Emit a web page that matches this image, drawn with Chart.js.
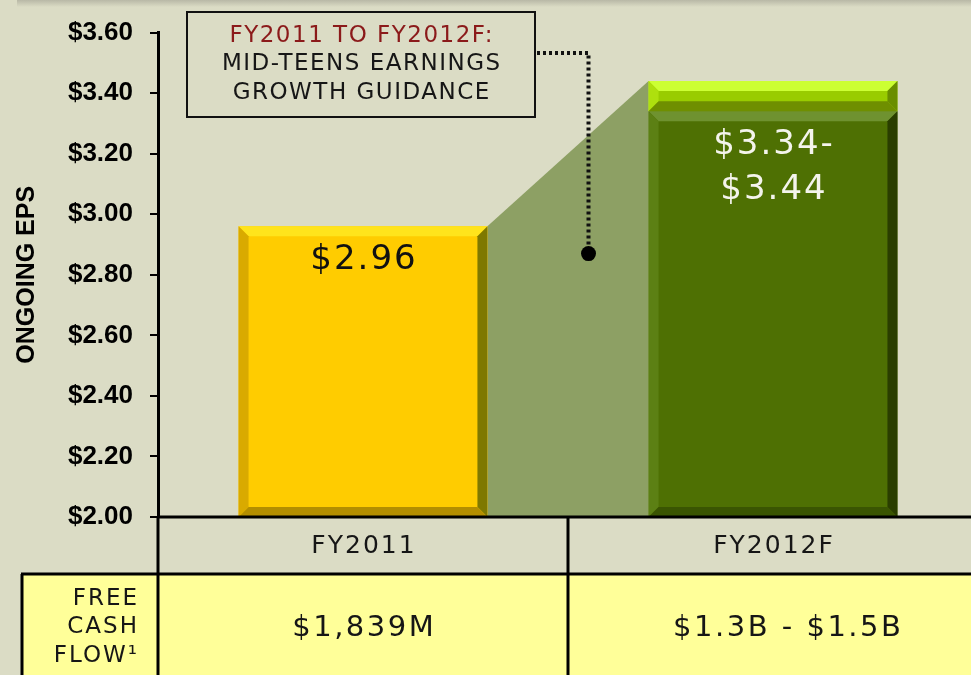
<!DOCTYPE html>
<html>
<head>
<meta charset="utf-8">
<title>Ongoing EPS</title>
<script src="https://cdn.jsdelivr.net/npm/chart.js@4/dist/chart.umd.min.js"></script>
<style>
  html, body { margin: 0; padding: 0; background: #DBDCC5; overflow: hidden; }
  #wrap { width: 980px; height: 675px; }
</style>
</head>
<body>
<div id="wrap"><canvas id="eps" width="980" height="675"></canvas></div>
<script>
// chart data
var categories = ['FY2011', 'FY2012F'];
var epsLow = [2.96, 3.34];
var epsHigh = [null, 3.44];
var barLabels = [['$2.96'], ['$3.34-', '$3.44']];
var yMin = 2.0, yMax = 3.6, yStep = 0.2;
var cashFlowLabel = ['FREE', 'CASH', 'FLOW\u00B9'];
var cashFlow = ['$1,839M', '$1.3B - $1.5B'];
var calloutLines = ['FY2011 TO FY2012F:', 'MID-TEENS EARNINGS', 'GROWTH GUIDANCE'];
var calloutPoint = { x: 0.55, y: 2.87 };

var BG = '#DBDCC5';
var bevels = {
  '#FFCC00': { top: '#FFE41C', left: '#D9AA00', right: '#7E7800', bottom: '#B38E00' },
  '#4E7003': { top: '#6F9230', left: '#5C8014', right: '#2A3E00', bottom: '#3A5502' },
  '#99CC00': { top: '#CCFF33', left: '#AEE00E', right: '#6A8E00', bottom: '#6F8F00' }
};

function baseData() {
  return epsLow.map(function(v) { return [yMin, v]; });
}
function rangeData() {
  return epsHigh.map(function(v, i) { return v === null ? null : [epsLow[i], v]; });
}

function barRect(el) {
  var p = el.getProps(['x', 'y', 'base', 'width'], true);
  return {
    l: p.x - p.width / 2, r: p.x + p.width / 2,
    t: Math.min(p.y, p.base), b: Math.max(p.y, p.base), cx: p.x
  };
}

function poly(ctx, pts, color) {
  ctx.beginPath();
  ctx.moveTo(pts[0][0], pts[0][1]);
  for (var i = 1; i < pts.length; i++) ctx.lineTo(pts[i][0], pts[i][1]);
  ctx.closePath();
  ctx.fillStyle = color;
  ctx.fill();
}

function spacedText(ctx, text, x, y, font, color, align, spacing) {
  ctx.font = font;
  ctx.fillStyle = color;
  ctx.textBaseline = 'middle';
  ctx.letterSpacing = spacing + 'px';
  var w = ctx.measureText(text).width - spacing;
  var sx = align === 'center' ? x - w / 2 : align === 'right' ? x - w : x;
  ctx.textAlign = 'left';
  ctx.fillText(text, sx, y);
  ctx.letterSpacing = '0px';
}

var decorPlugin = {
  id: 'decor',
  beforeDraw: function(chart) {
    var ctx = chart.ctx;
    ctx.save();
    ctx.fillStyle = BG;
    ctx.fillRect(0, 0, chart.width, chart.height);
    // top edge shadow
    var g = ctx.createLinearGradient(0, 0, 0, 7);
    g.addColorStop(0, '#B8B8A6');
    g.addColorStop(1, BG);
    ctx.fillStyle = g;
    ctx.fillRect(17, 0, chart.width, 7);
    ctx.restore();
  },
  beforeDatasetsDraw: function(chart) {
    // shaded growth wedge between the two bars
    var ctx = chart.ctx;
    var y = chart.scales.y;
    var a = barRect(chart.getDatasetMeta(0).data[0]);
    var hi = barRect(chart.getDatasetMeta(1).data[1]);
    ctx.save();
    poly(ctx, [[a.r, a.t], [hi.l, hi.t], [hi.l, y.bottom], [a.r, y.bottom]], '#8DA064');
    ctx.restore();
  },
  afterDatasetsDraw: function(chart) {
    var ctx = chart.ctx;
    var bw = 10;
    ctx.save();
    chart.data.datasets.forEach(function(ds, di) {
      var meta = chart.getDatasetMeta(di);
      meta.data.forEach(function(el, i) {
        if (ds.data[i] === null) return;
        var c = Array.isArray(ds.backgroundColor) ? ds.backgroundColor[i] : ds.backgroundColor;
        var bv = bevels[c];
        var r = barRect(el);
        var b = Math.min(bw, (r.b - r.t) / 2);
        poly(ctx, [[r.l, r.t], [r.r, r.t], [r.r - b, r.t + b], [r.l + b, r.t + b]], bv.top);
        poly(ctx, [[r.l, r.t], [r.l + b, r.t + b], [r.l + b, r.b - b], [r.l, r.b]], bv.left);
        poly(ctx, [[r.r, r.t], [r.r, r.b], [r.r - b, r.b - b], [r.r - b, r.t + b]], bv.right);
        poly(ctx, [[r.l, r.b], [r.l + b, r.b - b], [r.r - b, r.b - b], [r.r, r.b]], bv.bottom);
      });
    });

    // value labels inside the bars
    var meta0 = chart.getDatasetMeta(0);
    barLabels.forEach(function(lines, i) {
      var r = barRect(meta0.data[i]);
      var color = i === 0 ? '#111111' : '#F4F4EC';
      lines.forEach(function(t, k) {
        spacedText(ctx, t, r.cx, r.t + 34 + k * 45, '34px "DejaVu Sans"', color, 'center', 2);
      });
    });

    // callout box and connector
    var xs = chart.scales.x, ys = chart.scales.y;
    var px = xs.getPixelForValue(calloutPoint.x);
    var py = ys.getPixelForValue(calloutPoint.y);
    var box = { l: 187, t: 12, r: 535, b: 117 };
    ctx.fillStyle = BG;
    ctx.fillRect(box.l, box.t, box.r - box.l, box.b - box.t);
    ctx.strokeStyle = '#111';
    ctx.lineWidth = 2;
    ctx.strokeRect(box.l, box.t, box.r - box.l, box.b - box.t);
    ctx.beginPath();
    ctx.setLineDash([3, 3]);
    ctx.lineWidth = 4;
    ctx.moveTo(box.r + 2, 53);
    ctx.lineTo(px, 53);
    ctx.lineTo(px, py);
    ctx.stroke();
    ctx.setLineDash([]);
    ctx.beginPath();
    ctx.arc(px, py, 7.5, 0, Math.PI * 2);
    ctx.fillStyle = '#000';
    ctx.fill();
    var cx = (box.l + box.r) / 2;
    calloutLines.forEach(function(t, k) {
      spacedText(ctx, t, cx, 36 + k * 28.5, '23px "DejaVu Sans"', k === 0 ? '#8B1A1A' : '#161616', 'center', 1.5);
    });
    ctx.restore();
  },
  afterDraw: function(chart) {
    var ctx = chart.ctx;
    var xs = chart.scales.x, ys = chart.scales.y;
    var W = chart.width, H = chart.height;
    var top = ys.bottom, mid = top + 57;
    var split = xs.getPixelForValue(0.5);
    ctx.save();
    ctx.fillStyle = '#FFFF99';
    ctx.fillRect(21, mid, W - 21, H - mid);
    ctx.strokeStyle = '#000';
    ctx.lineWidth = 3;
    ctx.beginPath();
    ctx.moveTo(ys.right, top); ctx.lineTo(W, top);
    ctx.moveTo(21, mid); ctx.lineTo(W, mid);
    ctx.moveTo(22, mid); ctx.lineTo(22, H);
    ctx.moveTo(ys.right, top); ctx.lineTo(ys.right, H);
    ctx.moveTo(split, top); ctx.lineTo(split, H);
    ctx.stroke();

    categories.forEach(function(c, i) {
      var x = xs.getPixelForValue(i);
      spacedText(ctx, c, x, top + 29, '25px "DejaVu Sans"', '#161616', 'center', 2);
      spacedText(ctx, cashFlow[i], x + (i === 1 ? 14 : 0), mid + 54, '29px "DejaVu Sans"', '#161616', 'center', 2.5);
    });
    cashFlowLabel.forEach(function(t, k) {
      spacedText(ctx, t, 137, mid + 25 + k * 28.5, '23px "DejaVu Sans"', '#161616', 'right', 2);
    });
    ctx.restore();
  }
};

new Chart(document.getElementById('eps'), {
  type: 'bar',
  data: {
    labels: categories,
    datasets: [
      { label: 'Ongoing EPS', data: baseData(), backgroundColor: ['#FFCC00', '#4E7003'] },
      { label: 'Guidance range', data: rangeData(), backgroundColor: '#99CC00' }
    ]
  },
  options: {
    responsive: false,
    animation: false,
    devicePixelRatio: 1,
    layout: { padding: { top: 28, bottom: 158, left: 0, right: 2 } },
    datasets: { bar: { categoryPercentage: 1, barPercentage: 0.607, borderWidth: 0 } },
    plugins: { legend: { display: false }, tooltip: { enabled: false } },
    scales: {
      x: { display: false, stacked: true, offset: true },
      y: {
        min: yMin, max: yMax,
        afterFit: function(scale) { scale.width = 158; },
        ticks: {
          stepSize: yStep,
          padding: 17,
          color: '#000',
          font: { family: '"Liberation Sans", Arial, sans-serif', size: 26, weight: 'bold' },
          callback: function(v) { return '$' + Number(v).toFixed(2); }
        },
        grid: { drawOnChartArea: false, drawTicks: true, tickLength: 8, color: '#000', lineWidth: 2 },
        border: { display: true, color: '#000', width: 3 },
        title: {
          display: true,
          text: 'ONGOING EPS',
          color: '#000',
          padding: { top: 12, bottom: 0 },
          font: { family: '"Liberation Sans", Arial, sans-serif', size: 25, weight: 'bold' }
        }
      }
    }
  },
  plugins: [decorPlugin]
});
</script>
</body>
</html>
